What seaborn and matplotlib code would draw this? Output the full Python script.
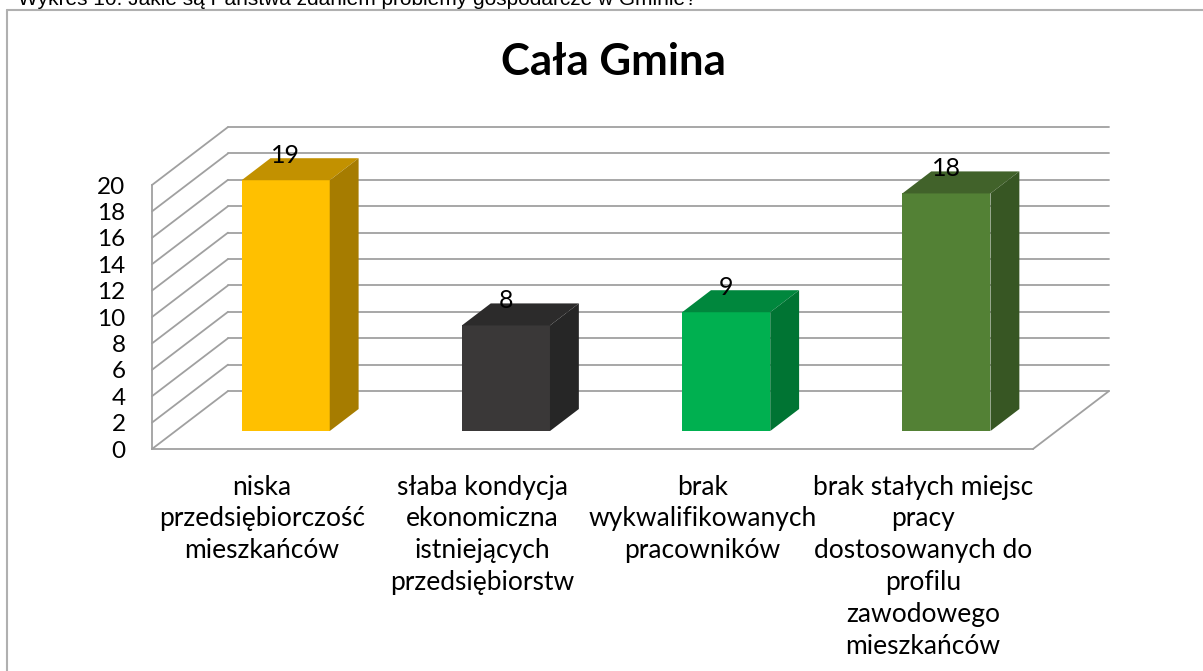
import matplotlib
matplotlib.use("Agg")
import matplotlib.pyplot as plt
import seaborn as sns
from matplotlib.patches import Polygon
from matplotlib.lines import Line2D

categories = [
    "niska\nprzedsiębiorczość\nmieszkańców",
    "słaba kondycja\nekonomiczna\nistniejących\nprzedsiębiorstw",
    "brak\nwykwalifikowanych\npracowników",
    "brak stałych miejsc\npracy\ndostosowanych do\nprofilu\nzawodowego\nmieszkańców",
]
values = [19, 8, 9, 18]
front_colors = ["#FFC000", "#3A3838", "#00B050", "#538135"]
top_colors = ["#C29100", "#2C2B2B", "#00873D", "#41622A"]
side_colors = ["#A67C00", "#262626", "#007433", "#375623"]
y_ticks = list(range(0, 21, 2))
title = "Cała Gmina"
caption = "Wykres 10. Jakie są Państwa zdaniem problemy gospodarcze w Gminie?"

sns.set_style("white")
plt.rcParams["font.family"] = ["Lato", "DejaVu Sans"]

W, H = 1203, 671
fig = plt.figure(figsize=(W / 100, H / 100), dpi=100)
ax = fig.add_axes([152 / W, (H - 449) / H, (1033 - 152) / W, (449 - 185) / H])
ax.patch.set_alpha(0)

sns.barplot(x=categories, y=values, hue=categories, palette=front_colors,
            width=0.4, saturation=1, legend=False, ax=ax, zorder=3)

ax.set_xlim(-0.5, 3.5)
ax.set_ylim(0, 20)

# 3D geometry (in data units)
DX, DY = 0.345, 4.39       # full depth offset of back wall
f0 = 0.31                  # depth of bar front face
bd = 0.38                  # bar depth fraction
ox, oy = f0 * DX, f0 * DY
bdx, bdy = bd * DX, bd * DY
grid_c = "#A0A0A0"

# back wall gridlines and left wall diagonals
for v in y_ticks:
    ax.add_line(Line2D([-0.5 + DX, 3.5 + DX], [v + DY, v + DY], color=grid_c,
                       lw=1.3, clip_on=False, zorder=1))
    ax.add_line(Line2D([-0.5, -0.5 + DX], [v, v + DY], color=grid_c,
                       lw=1.3, clip_on=False, zorder=1))
# floor right edge
ax.add_line(Line2D([3.5, 3.5 + DX], [0, DY], color=grid_c, lw=1.3,
                   clip_on=False, zorder=1))

patches = sorted(ax.patches, key=lambda p: p.get_x())
for i, p in enumerate(patches):
    x0 = p.get_x() + ox
    w = p.get_width()
    h = p.get_height()
    p.set_x(x0)
    p.set_y(oy)
    p.set_clip_on(False)
    p.set_edgecolor("none")
    x1 = x0 + w
    y0 = oy
    yt = oy + h
    top = Polygon([(x0, yt), (x1, yt), (x1 + bdx, yt + bdy), (x0 + bdx, yt + bdy)],
                  closed=True, facecolor=top_colors[i], edgecolor="none",
                  clip_on=False, zorder=3)
    side = Polygon([(x1, y0), (x1 + bdx, y0 + bdy), (x1 + bdx, yt + bdy), (x1, yt)],
                   closed=True, facecolor=side_colors[i], edgecolor="none",
                   clip_on=False, zorder=3)
    ax.add_patch(top)
    ax.add_patch(side)
    ax.text(x0 + w / 2, yt + 1.9, str(values[i]), ha="center", va="center",
            fontsize=18, color="black", zorder=5, clip_on=False)

# axes styling
for s in ["top", "right"]:
    ax.spines[s].set_visible(False)
for s in ["left", "bottom"]:
    ax.spines[s].set_color(grid_c)
    ax.spines[s].set_linewidth(1.3)
    ax.spines[s].set_zorder(1)

ax.set_yticks(y_ticks)
ax.set_yticklabels([str(t) for t in y_ticks], fontsize=17.5)
ax.tick_params(axis="y", direction="out", length=6, width=1.3, color=grid_c,
               pad=13, labelcolor="black")

ax.set_xticks(range(len(categories)))
ax.set_xticklabels(categories, fontsize=19, linespacing=1.34)
ax.tick_params(axis="x", which="major", length=0, pad=18.5, labelcolor="black")
ax.set_xticks([-0.5, 0.5, 1.5, 2.5, 3.5], minor=True)
ax.tick_params(axis="x", which="minor", direction="out", length=6, width=1.3,
               color=grid_c)
ax.set_xlabel("")
ax.set_ylabel("")
ax.grid(False)

# title and caption
fig.text(613 / W, 1 - 62 / H, title, ha="center", va="center", fontsize=31.5,
         fontweight="bold", color="black")
fig.text(18 / W, 1 - 5 / H, caption, ha="left", va="baseline", fontsize=15,
         family=["Liberation Sans", "DejaVu Sans"], color="black")

# outer frame
fig.add_artist(Line2D([7 / W, 7 / W], [0, 1 - 10 / H], color="#B0B0B0", lw=1.5,
                      transform=fig.transFigure))
fig.add_artist(Line2D([7 / W, 1], [1 - 10 / H, 1 - 10 / H], color="#B0B0B0", lw=1.5,
                      transform=fig.transFigure))

fig.savefig("out.png", dpi=100)
